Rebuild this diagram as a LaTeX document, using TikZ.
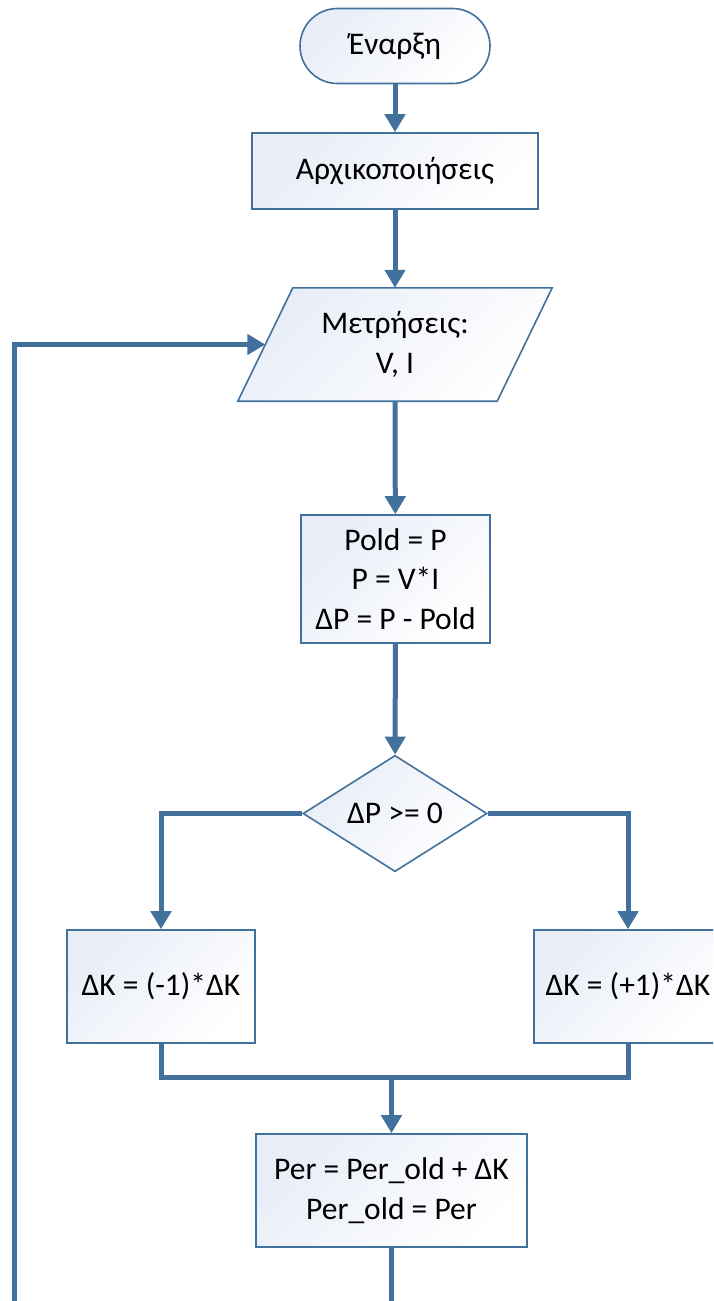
\documentclass[tikz,border=0pt]{standalone}
\usepackage{fontspec}
\setmainfont{Carlito}
\usetikzlibrary{arrows.meta,shapes.geometric}
\definecolor{lineblue}{HTML}{41719C}
\definecolor{shadetop}{HTML}{E8EDF7}
\tikzset{
  base/.style={font=\fontsize{31.5}{39.5}\selectfont, align=center, text=black, inner sep=0pt},
  shapefill/.style={top color=shadetop, bottom color=white, shading angle=45},
  shapeline/.style={draw=lineblue, line width=1.6pt},
  box/.style={base, shapefill, shapeline, rectangle},
  conn/.style={draw=lineblue, line width=5pt},
  arr/.style={conn, -{Triangle[width=20pt,length=18pt]}},
}
\begin{document}
\begin{tikzpicture}[x=1pt,y=-1pt]
\useasboundingbox (0,0) rectangle (713,1301);
\clip (0,0) rectangle (713,1301);
\node[box, rounded corners=37.5pt, minimum width=190pt, minimum height=75pt] (start) at (395,46) {Έναρξη};
\node[box, minimum width=286pt, minimum height=76pt] (init) at (395,171) {Αρχικοποιήσεις};
\node[base, minimum width=259pt, minimum height=113pt] (meas) at (395,344.5) {};
\shade[shapefill, shapeline] ([xshift=-27.5pt]meas.south west) -- ([xshift=27.5pt]meas.north west) -- ([xshift=27.5pt]meas.north east) -- ([xshift=-27.5pt]meas.south east) -- cycle;
\node[base] (meastext) at (meas.center) {Μετρήσεις:\\V, I};
\node[box, minimum width=189pt, minimum height=128pt] (calc) at (395.5,579) {Pold = P\\P = V*I\\ΔP = P - Pold};
\node[base, shapefill, shapeline, diamond, minimum width=184pt, minimum height=113pt] (dec) at (395,813.5) {ΔP >= 0};
\node[box, minimum width=188pt, minimum height=113pt] (left) at (161,986.5) {ΔK = (-1)*ΔK};
\node[box, minimum width=188pt, minimum height=113pt] (right) at (628,986.5) {ΔK = (+1)*ΔK};
\node[box, minimum width=271pt, minimum height=113pt] (per) at (391.5,1190.5) {Per = Per\_old + ΔK\\Per\_old = Per};
\coordinate (merge) at (391.5,1077);
\coordinate (lb) at (14,1360);
\draw[arr] (start) -- (init);
\draw[arr] (init) -- (meas.north);
\draw[arr] (meas.south) -- (calc);
\draw[arr] (calc) -- (dec);
\draw[arr] (dec.west) -| (left.north);
\draw[arr] (dec.east) -| (right.north);
\draw[conn] (left.south) -- (left.south |- merge) -| (right.south);
\draw[arr] (merge) -- (per.north);
\draw[arr] (per.south) |- (lb) |- (meas.west);
\end{tikzpicture}
\end{document}
